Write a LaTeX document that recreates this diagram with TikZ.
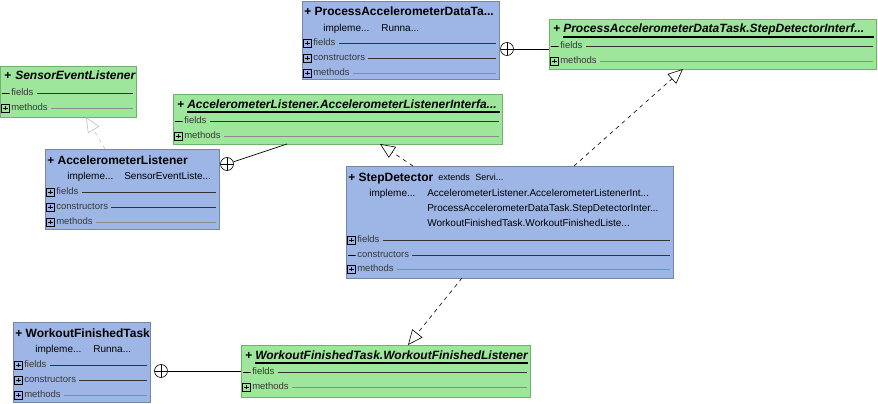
\documentclass[tikz,border=0pt]{standalone}
\usepackage{fontspec}
\setmainfont{Liberation Sans}
\usetikzlibrary{
	calc,
	arrows.meta,
	shadows,
	positioning
	}
\tikzset{font={\fontsize{9.5pt}{11}\selectfont}}
\definecolor{bluefill}{HTML}{9EB6E6}
\definecolor{blueedge}{HTML}{7686A8}
\definecolor{greenfill}{HTML}{9EE69B}
\definecolor{greenedge}{HTML}{6DB46A}
\definecolor{membertext}{HTML}{383838}
\newcommand{\umlrow}[5]{%
	\node[#4]		(#1-#3-icon)	at ([shift={(5.5,#2)}]#1.north west)	{};
	\node[member]	(#1-#3)			at ([shift={(11,#2)}]#1.north west)		{#3};
	\draw[#5] ([xshift=3pt]#1-#3.east) -- ([shift={(-3,#2)}]#1.north east);
}

\begin{document}
\begin{tikzpicture}[x=1pt, y=-1pt, line width=0.6pt,
			classbox/.style={draw=#1edge, fill=#1fill, anchor=north west, inner sep=0pt, outer sep=0pt,
				drop shadow={shadow xshift=1.3pt, shadow yshift=-1.3pt, fill=black!45, opacity=1}},
			classname/.style={anchor=west, inner sep=0pt, text height=8.5pt, text depth=2.5pt,
				font=\bfseries\fontsize{12pt}{14}\selectfont},
			ifacename/.style={classname, font=\bfseries\itshape\fontsize{12pt}{14}\selectfont},
			impl/.style={anchor=west, inner sep=0pt, text height=7pt, text depth=2pt,
				font=\fontsize{10pt}{12}\selectfont},
			small/.style={impl, font=\fontsize{9pt}{11}\selectfont},
			member/.style={anchor=west, inner sep=0pt, text=membertext, text height=6.5pt, text depth=1.5pt},
			plusicon/.style={draw=black, minimum size=8pt, inner sep=0pt,
				path picture={\draw ([xshift=1.6pt]path picture bounding box.west) -- ([xshift=-1.6pt]path picture bounding box.east)
					([yshift=-1.6pt]path picture bounding box.north) -- ([yshift=1.6pt]path picture bounding box.south);}},
			dashicon/.style={minimum size=8pt, inner sep=0pt,
				path picture={\draw (path picture bounding box.west) -- (path picture bounding box.east);}},
			dark/.style={draw=black!80},
			light/.style={draw=black!45},
			nest/.style={circle, draw, fill=white, minimum size=13pt, inner sep=0pt,
				path picture={\draw (path picture bounding box.north) -- (path picture bounding box.south)
					(path picture bounding box.west) -- (path picture bounding box.east);}},
			nestline/.style={line width=0.7pt},
			realize/.style={-{Triangle[open, length=15pt, width=13pt]}, dash pattern=on 4pt off 4pt},
			faint/.style={draw=black!25}]
	\useasboundingbox (0,0) rectangle (878,404);

	\node[classbox=blue, minimum width=197pt, minimum height=78pt]	(procTask)		at (302,1)		{};
	\node[classbox=green, minimum width=327pt, minimum height=50pt]	(procIface)		at (549,19)		{};
	\node[classbox=green, minimum width=136pt, minimum height=51pt]	(sensorIface)	at (0,66)		{};
	\node[classbox=green, minimum width=329pt, minimum height=50pt]	(accIface)		at (173,94)		{};
	\node[classbox=blue, minimum width=174pt, minimum height=80pt]	(accListener)	at (45,149)		{};
	\node[classbox=blue, minimum width=327pt, minimum height=112pt]	(stepDet)		at (346,166)	{};
	\node[classbox=blue, minimum width=137pt, minimum height=80pt]	(wfTask)		at (13,322)		{};
	\node[classbox=green, minimum width=289pt, minimum height=52pt]	(wfIface)		at (241,345)	{};

	\node[classname]	(procTask-name)		at ([shift={(2,12)}]procTask.north west)		{+ ProcessAccelerometerDataTa...};
	\node[impl]			(procTask-impl)		at ([shift={(21,28)}]procTask.north west)		{impleme...};
	\node[impl]			(procTask-runna)	at ([shift={(79,28)}]procTask.north west)		{Runna...};
	\umlrow{procTask}{42}{fields}{plusicon}{dark}
	\umlrow{procTask}{57}{constructors}{plusicon}{dark}
	\umlrow{procTask}{72}{methods}{plusicon}{light}

	\node[classname]	(procIface-plus)	at ([shift={(4,11)}]procIface.north west)		{+};
	\node[ifacename]	(procIface-name)	at ([shift={(14,11)}]procIface.north west)		{ProcessAccelerometerDataTask.StepDetectorInterf...};
	\draw[line width=1.3pt] ([shift={(14,18)}]procIface.north west) -- ([shift={(-2,18)}]procIface.north east);
	\umlrow{procIface}{27}{fields}{dashicon}{dark}
	\umlrow{procIface}{42}{methods}{plusicon}{light}

	\node[classname]	(sensorIface-plus)	at ([shift={(4,11)}]sensorIface.north west)		{+};
	\node[ifacename]	(sensorIface-name)	at ([shift={(15,11)}]sensorIface.north west)	{SensorEventListener};
	\umlrow{sensorIface}{27}{fields}{dashicon}{dark}
	\umlrow{sensorIface}{42}{methods}{plusicon}{light}

	\node[classname]	(accIface-plus)		at ([shift={(4,11)}]accIface.north west)		{+};
	\node[ifacename]	(accIface-name)		at ([shift={(14,11)}]accIface.north west)		{AccelerometerListener.AccelerometerListenerInterfa...};
	\draw[line width=1.3pt] ([shift={(14,18)}]accIface.north west) -- ([shift={(-2,18)}]accIface.north east);
	\umlrow{accIface}{27}{fields}{dashicon}{dark}
	\umlrow{accIface}{42}{methods}{plusicon}{light}

	\node[classname]	(accListener-name)	at ([shift={(2,12)}]accListener.north west)		{+ AccelerometerListener};
	\node[impl]			(accListener-impl)	at ([shift={(22,28)}]accListener.north west)	{impleme...};
	\node[impl]			(accListener-sel)	at ([shift={(79,28)}]accListener.north west)	{SensorEventListe...};
	\umlrow{accListener}{43}{fields}{plusicon}{dark}
	\umlrow{accListener}{58}{constructors}{plusicon}{dark}
	\umlrow{accListener}{73}{methods}{plusicon}{light}

	\node[classname]	(stepDet-name)		at ([shift={(2,12)}]stepDet.north west)			{+ StepDetector};
	\node[small]		(stepDet-extends)	at ([shift={(92,12)}]stepDet.north west)		{extends};
	\node[small]		(stepDet-servi)		at ([shift={(129,12)}]stepDet.north west)		{Servi...};
	\node[impl]			(stepDet-impl)		at ([shift={(23,28)}]stepDet.north west)		{impleme...};
	\node[impl]			(stepDet-acc)		at ([shift={(81,28)}]stepDet.north west)		{AccelerometerListener.AccelerometerListenerInt...};
	\node[impl]			(stepDet-proc)		at ([shift={(81,43)}]stepDet.north west)		{ProcessAccelerometerDataTask.StepDetectorInter...};
	\node[impl]			(stepDet-wf)		at ([shift={(81,58)}]stepDet.north west)		{WorkoutFinishedTask.WorkoutFinishedListe...};
	\umlrow{stepDet}{74}{fields}{plusicon}{dark}
	\umlrow{stepDet}{89}{constructors}{dashicon}{dark}
	\umlrow{stepDet}{103}{methods}{plusicon}{light}

	\node[classname]	(wfTask-name)		at ([shift={(2,12)}]wfTask.north west)			{+ WorkoutFinishedTask};
	\node[impl]			(wfTask-impl)		at ([shift={(22,28)}]wfTask.north west)			{impleme...};
	\node[impl]			(wfTask-runna)		at ([shift={(80,28)}]wfTask.north west)			{Runna...};
	\umlrow{wfTask}{43}{fields}{plusicon}{dark}
	\umlrow{wfTask}{58}{constructors}{plusicon}{dark}
	\umlrow{wfTask}{73}{methods}{plusicon}{light}

	\node[classname]	(wfIface-plus)		at ([shift={(4,11)}]wfIface.north west)			{+};
	\node[ifacename]	(wfIface-name)		at ([shift={(14,11)}]wfIface.north west)		{WorkoutFinishedTask.WorkoutFinishedListener};
	\draw[line width=1.3pt] ([shift={(14,18)}]wfIface.north west) -- ([shift={(-2,18)}]wfIface.north east);
	\umlrow{wfIface}{27}{fields}{dashicon}{dark}
	\umlrow{wfIface}{42}{methods}{plusicon}{light}

	\node[nest]	(procNest)	at ([shift={(8,48)}]procTask.north east)	{};
	\node[nest]	(accNest)	at ([shift={(8,15)}]accListener.north east)	{};
	\node[nest]	(wfNest)	at ([shift={(11,49)}]wfTask.north east)		{};
	\draw[nestline]	(procNest.east)	-- (procNest -| procIface.west);
	\draw[nestline]	(accNest)		-- ([xshift=114pt]accIface.south west);
	\draw[nestline]	(wfNest.east)	-- (wfNest -| wfIface.west);

	\draw[realize]			([xshift=228pt]stepDet.north west)		-- ([xshift=134pt]procIface.south west);
	\draw[realize]			([xshift=67pt]stepDet.north west)		-- ([xshift=207pt]accIface.south west);
	\draw[realize, faint]	([xshift=60pt]accListener.north west)	-- ([xshift=86pt]sensorIface.south west);
	\draw[realize]			([xshift=116pt]stepDet.south west)		-- ([xshift=167pt]wfIface.north west);
\end{tikzpicture}
\end{document}
